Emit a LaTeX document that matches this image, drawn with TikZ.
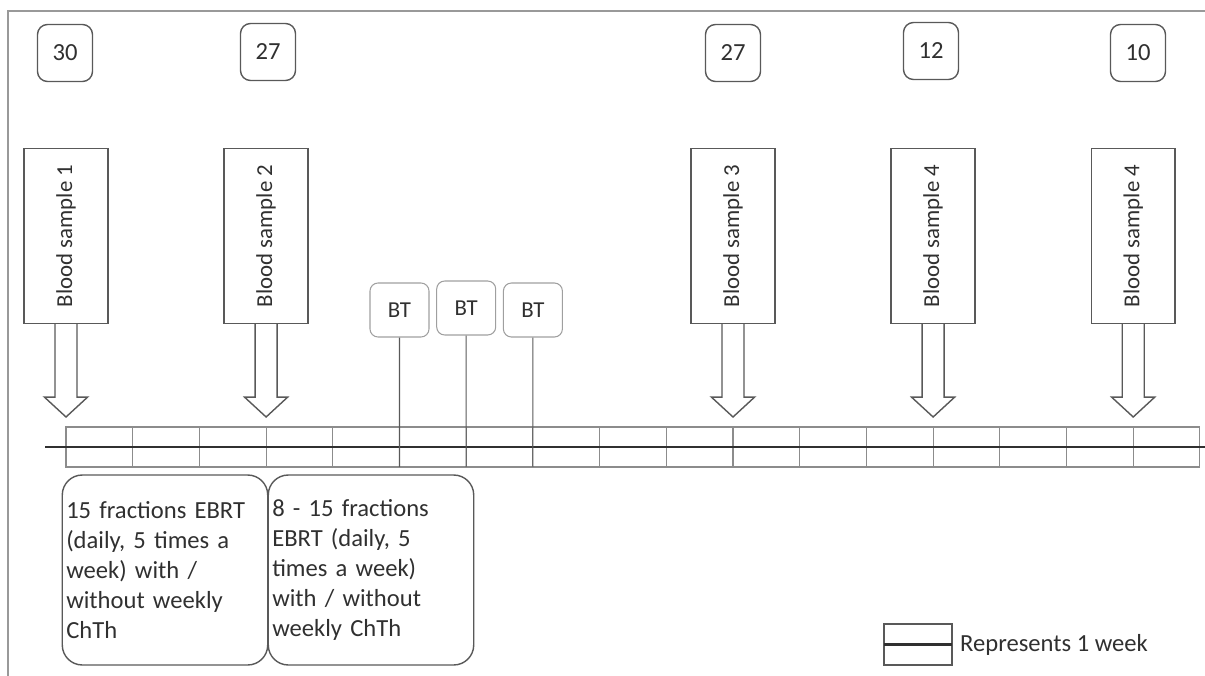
\documentclass[tikz,border=0pt]{standalone}
\usepackage{fontspec}
\setmainfont{Carlito}
\usepackage{graphicx}
\usepackage{tikz}
\usetikzlibrary{positioning}
\usetikzlibrary{calc}
\definecolor{edge}{HTML}{595959}
\definecolor{grid}{HTML}{8C8C8C}
\definecolor{ink}{HTML}{303030}
\tikzstyle{count}=[
        rectangle,
        draw=edge,
        line width=0.8pt,
        rounded corners=0.2cm,
        minimum width=1.1cm,
        minimum height=1.14cm,
        font=\fontsize{14}{17}\selectfont,
        text=ink
]
\tikzstyle{sample}=[rectangle,draw=edge,line width=0.8pt,fill=white,
minimum width=1.68cm,minimum height=3.5cm,inner sep=0pt,
font=\fontsize{13}{15}\selectfont,text=ink]
\tikzstyle{week}=[rectangle,draw=grid,line width=0.6pt,minimum width=1.334cm,
minimum height=0.8cm,inner sep=0pt,outer sep=0pt]
\tikzstyle{bt}=[rectangle,draw=gray!75,line width=0.6pt,rounded corners=0.16cm,
minimum width=1.18cm,minimum height=1.08cm,font=\fontsize{13}{15}\selectfont,text=ink]
\tikzstyle{note}=[rectangle,draw=edge,line width=0.8pt,rounded corners=0.4cm,
minimum width=4.1cm,minimum height=3.8cm,text width=3.95cm,align=left,
inner sep=0.08cm,font=\fontsize{14}{17}\selectfont,text=ink]
\tikzstyle{shaft}=[draw=edge,line width=0.8pt,fill=white]
\tikzstyle{stem}=[draw=edge,line width=0.6pt]
\tikzstyle{axis}=[draw=ink,line width=1.2pt]

\begin{document}
\begin{tikzpicture}[x=0.02cm,y=-0.02cm]
\useasboundingbox (0,0) rectangle (1205,676);
\draw[draw=gray!80,line width=0.6pt] (8,676) |- (1205,11);
%Weeks
\foreach \i in {0,...,16}
  \node[week] (c\i) at (99.35+66.7*\i,447) {};
\coordinate (t0) at (45,447);
\coordinate (t1) at (1205,447);
\draw[axis] (t0) -- (t1);
%Blood samples
\node[sample] (bs1) at (66,236) {\rotatebox{90}{Blood sample 1}};
\node[sample] (bs2) at (266.1,236) {\rotatebox{90}{Blood sample 2}};
\node[sample] (bs3) at (733,236) {\rotatebox{90}{Blood sample 3}};
\node[sample] (bs4) at (933.1,236) {\rotatebox{90}{Blood sample 4}};
\node[sample] (bs5) at (1133.2,236) {\rotatebox{90}{Blood sample 4}};
\node[count] (n1) at (65,53) {30};
\node[count] (n2) at (268,52) {27};
\node[count] (n3) at (733,53) {27};
\node[count] (n4) at (931,51) {12};
\node[count] (n5) at (1138,53) {10};
\node[bt] (bt1) at (399.5,310) {BT};
\node[bt] (bt2) at (466.2,308) {BT};
\node[bt] (bt3) at (532.9,310) {BT};
\node[note] (ebrt1) at (165,570) {15 fractions EBRT\\(daily, 5 times a\\week) with /\\without weekly\\ChTh};
\node[note] (ebrt2) at (371,570) {8 - 15 fractions\\EBRT (daily, 5\\times a week)\\with / without\\weekly ChTh};
\node[week,draw=edge,minimum width=1.36cm,minimum height=0.82cm] (leg) at (918,644.5) {};
\node[right=0.04cm of leg,font=\fontsize{14}{17}\selectfont,text=ink] (legtext) {Represents 1 week};
%Drawing Edges
\foreach \n/\c in {bs1/c0,bs2/c3,bs3/c10,bs4/c13,bs5/c16}
  \draw[shaft] ($(\n.south)+(-11,0)$) -- ++(0,73) -- ++(-10.5,0)
    -- ($(\c.north west)+(0,-10)$) -- ($(\n.south)+(21.5,73)$) -- ++(-10.5,0)
    -- ($(\n.south)+(11,0)$);
\draw[stem] (bt1.south) -- (c5.south west);
\draw[stem] (bt2.south) -- (c6.south west);
\draw[stem] (bt3.south) -- (c7.south west);
\draw[axis] (leg.west) -- (leg.east);
\end{tikzpicture}
\end{document}
